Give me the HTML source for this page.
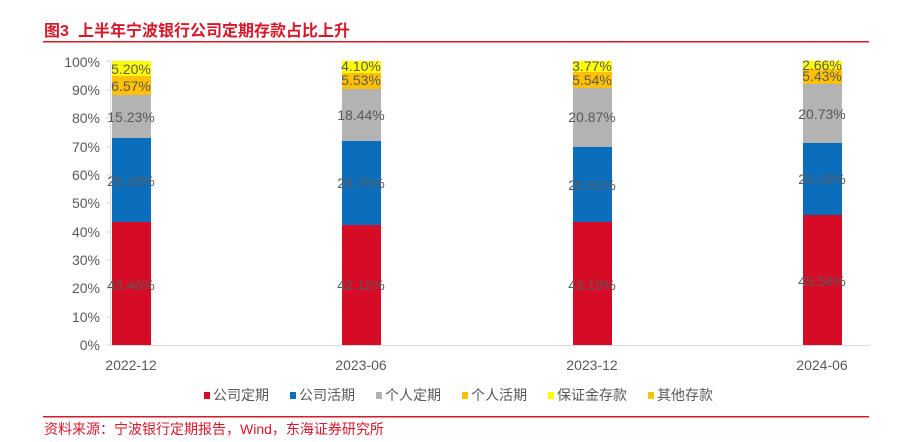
<!DOCTYPE html>
<html><head><meta charset="utf-8"><style>
body{margin:0;background:#fff;width:902px;height:437px;overflow:hidden}
svg{font-family:"Liberation Sans","Noto Sans CJK SC",sans-serif}
</style></head><body>
<svg width="902" height="437" xmlns="http://www.w3.org/2000/svg">
<text x="44" y="36" font-size="16" font-weight="bold" fill="#d6182b">图3</text>
<text x="78" y="36" font-size="16" font-weight="bold" fill="#d6182b">上半年宁波银行公司定期存款占比上升</text>
<rect x="43" y="41" width="826" height="1.5" fill="#d6182b"/>
<line x1="110.5" y1="61" x2="110.5" y2="345" stroke="#d9d9d9"/>
<line x1="110" y1="345.5" x2="870" y2="345.5" stroke="#d9d9d9"/>
<g font-size="14" fill="#595959" text-anchor="end">
<text x="100" y="350">0%</text><text x="100" y="322">10%</text><text x="100" y="293">20%</text><text x="100" y="265">30%</text><text x="100" y="237">40%</text><text x="100" y="208">50%</text><text x="100" y="180">60%</text><text x="100" y="152">70%</text><text x="100" y="123">80%</text><text x="100" y="95">90%</text><text x="100" y="67">100%</text>
</g>
<g stroke="#d9d9d9"><line x1="106" y1="345" x2="111" y2="345"/><line x1="106" y1="317" x2="111" y2="317"/><line x1="106" y1="288" x2="111" y2="288"/><line x1="106" y1="260" x2="111" y2="260"/><line x1="106" y1="232" x2="111" y2="232"/><line x1="106" y1="203" x2="111" y2="203"/><line x1="106" y1="175" x2="111" y2="175"/><line x1="106" y1="147" x2="111" y2="147"/><line x1="106" y1="118" x2="111" y2="118"/><line x1="106" y1="90" x2="111" y2="90"/><line x1="106" y1="61" x2="111" y2="61"/></g>
<rect x="112" y="222" width="39" height="123" fill="#d60b25"/>
<rect x="112" y="138" width="39" height="84" fill="#0a6ebd"/>
<rect x="112" y="95" width="39" height="43" fill="#b3b3b3"/>
<rect x="112" y="76" width="39" height="19" fill="#ffc000"/>
<rect x="112" y="61" width="39" height="15" fill="#ffff00"/>
<rect x="342" y="225" width="39" height="120" fill="#d60b25"/>
<rect x="342" y="141" width="39" height="84" fill="#0a6ebd"/>
<rect x="342" y="89" width="39" height="52" fill="#b3b3b3"/>
<rect x="342" y="73" width="39" height="16" fill="#ffc000"/>
<rect x="342" y="61" width="39" height="12" fill="#ffff00"/>
<rect x="573" y="222" width="39" height="123" fill="#d60b25"/>
<rect x="573" y="147" width="39" height="75" fill="#0a6ebd"/>
<rect x="573" y="88" width="39" height="59" fill="#b3b3b3"/>
<rect x="573" y="72" width="39" height="16" fill="#ffc000"/>
<rect x="573" y="61" width="39" height="11" fill="#ffff00"/>
<rect x="803" y="215" width="39" height="130" fill="#d60b25"/>
<rect x="803" y="143" width="39" height="72" fill="#0a6ebd"/>
<rect x="803" y="84" width="39" height="59" fill="#b3b3b3"/>
<rect x="803" y="69" width="39" height="15" fill="#ffc000"/>
<rect x="803" y="61" width="39" height="8" fill="#ffff00"/>
<g font-size="14" fill="#595959" text-anchor="middle">
<text x="131" y="290">43.46%</text><text x="131" y="186">29.33%</text><text x="131" y="122">15.23%</text><text x="131" y="91">6.57%</text><text x="131" y="74">5.20%</text>
<text x="361" y="290">42.12%</text><text x="361" y="188">29.70%</text><text x="361" y="120">18.44%</text><text x="361" y="85">5.53%</text><text x="361" y="71">4.10%</text>
<text x="592" y="290">43.19%</text><text x="592" y="190">26.51%</text><text x="592" y="122">20.87%</text><text x="592" y="85">5.54%</text><text x="592" y="71">3.77%</text>
<text x="822" y="286">45.56%</text><text x="822" y="184">25.16%</text><text x="822" y="119">20.73%</text><text x="822" y="81">5.43%</text><text x="822" y="70">2.66%</text>
</g>
<g font-size="14" fill="#595959" text-anchor="middle">
<text x="131" y="370">2022-12</text><text x="361" y="370">2023-06</text><text x="592" y="370">2023-12</text><text x="822" y="370">2024-06</text>
</g>
<g font-size="14" fill="#595959">
<rect x="204" y="392" width="6" height="7" fill="#d60b25"/><text x="213" y="400">公司定期</text>
<rect x="290" y="392" width="6" height="7" fill="#0a6ebd"/><text x="299" y="400">公司活期</text>
<rect x="376" y="392" width="6" height="7" fill="#b3b3b3"/><text x="385" y="400">个人定期</text>
<rect x="462" y="392" width="6" height="7" fill="#ffc000"/><text x="471" y="400">个人活期</text>
<rect x="548" y="392" width="6" height="7" fill="#ffff00"/><text x="557" y="400">保证金存款</text>
<rect x="648" y="392" width="6" height="7" fill="#f2c500"/><text x="657" y="400">其他存款</text>
</g>
<rect x="43" y="416" width="826" height="1.5" fill="#d6182b"/>
<text x="44" y="434" font-size="14" fill="#d6182b">资料来源：宁波银行定期报告，Wind，东海证券研究所</text>
</svg>
</body></html>
